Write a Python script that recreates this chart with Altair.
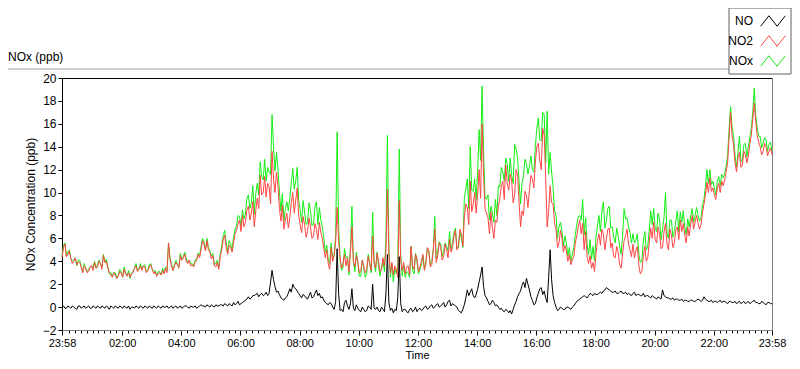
import altair as alt
import pandas as pd

# ---------------- data ----------------
# Samples every 6 minutes from 23:58 to 23:58 next day (241 values), plus a
# second reading 3 minutes after each of them (240 values) that captures the
# jagged band of the record.
START = "2014-03-10 23:58"

NO2 = [4.3, 5.5, 4.6, 4.2, 4.0, 3.7, 3.9, 3.0, 3.4, 3.1, 3.6, 3.9, 3.5, 3.8, 4.5, 4.0, 3.0, 2.6, 2.8, 2.7,
       3.0, 3.3, 2.7, 2.6, 3.0, 3.6, 3.3, 3.2, 3.5, 3.2, 3.7, 2.9, 2.7, 3.0, 3.2, 3.4, 5.6, 3.6, 3.6, 3.7,
       4.5, 4.3, 4.0, 4.1, 3.7, 3.9, 4.6, 5.0,
       5.5, 5.8, 4.8, 4.5, 3.5, 3.3, 5.0, 6.3, 4.6, 5.2, 5.6, 6.7, 7.6, 8.0, 7.4, 8.8, 8.2, 7.0, 9.5, 11.5,
       10.0, 9.6, 10.5, 13.6, 10.0, 10.6, 7.5, 6.8, 8.2, 7.8, 10.0, 9.3, 8.0, 6.5, 7.2, 6.6, 7.0, 6.2, 6.8, 7.4,
       6.0, 4.3, 3.8, 5.2, 4.6, 8.7, 4.3, 3.8,
       3.6, 3.1, 7.0, 3.5, 3.9, 3.2, 3.6, 3.3, 3.8, 6.2, 3.4, 4.0, 3.3, 3.6, 10.3, 3.0, 2.8, 3.3, 9.3, 3.2,
       2.9, 3.6, 5.3, 3.3, 4.2, 3.5, 4.6, 3.8, 4.9, 3.7, 6.8, 4.5, 5.3, 4.4, 5.0, 5.9, 5.2, 6.7, 5.4, 6.4,
       7.8, 8.7, 11.0, 9.0, 8.2, 12.0, 16.0, 8.6,
       7.8, 8.3, 6.0, 7.4, 9.5, 11.0, 12.4, 10.2, 11.0, 9.8, 11.5, 7.0, 8.0, 9.8, 10.2, 11.2, 12.6, 14.3, 12.0, 15.0,
       7.0, 10.6, 9.0, 6.8, 5.6, 6.0, 5.4, 4.0, 3.7, 4.4, 6.2, 7.6, 7.3, 6.6, 3.8, 3.4, 3.1, 5.8, 5.4, 6.4,
       5.9, 6.9, 5.6, 4.3, 4.8, 3.4, 5.8, 6.8,
       5.0, 5.5, 4.9, 3.6, 3.1, 5.3, 4.3, 6.9, 7.4, 5.6, 6.4, 5.2, 7.3, 5.0, 6.3, 5.6, 7.0, 7.6, 7.3, 5.6,
       6.2, 8.0, 7.4, 7.3, 7.2, 9.0, 10.9, 11.3, 10.4, 9.4, 10.8, 11.0, 11.1, 12.6, 17.0, 14.2, 11.8, 13.5, 12.4, 13.3,
       13.2, 15.0, 17.8, 15.0, 14.0, 13.6, 14.0, 13.6, 13.3]
NO2_MID = [5.2, 4.4, 4.9, 3.8, 4.3, 3.9, 3.5, 3.6, 3.0, 3.5, 3.2, 3.4, 4.0, 3.3, 3.9, 3.4, 2.8, 3.0, 2.5, 3.1,
           2.6, 2.9, 3.0, 2.9, 3.4, 3.1, 3.6, 3.6, 3.0, 3.5, 3.3, 3.1, 2.9, 2.8, 2.9, 3.0, 4.2, 3.2, 3.9, 3.4,
           4.1, 4.6, 3.8, 3.6, 3.5, 4.1, 4.3, 5.8,
           4.9, 5.0, 4.2, 3.6, 3.9, 4.4, 5.9, 5.2, 5.4, 4.8, 6.4, 7.3, 6.6, 7.0, 8.5, 7.6, 9.2, 8.4, 8.6, 9.8,
           11.4, 10.8, 9.0, 11.2, 11.8, 8.6, 8.9, 7.6, 6.9, 9.1, 8.2, 10.4, 7.2, 7.9, 6.1, 7.8, 6.0, 7.3, 5.9, 6.5,
           5.1, 5.0, 3.3, 4.0, 5.6, 5.8, 3.4, 4.6,
           4.3, 4.8, 4.0, 4.5, 3.0, 4.1, 3.0, 4.4, 3.2, 3.9, 4.7, 3.1, 4.3, 4.8, 4.6, 3.9, 3.6, 2.6, 4.1, 3.9,
           3.5, 2.8, 3.6, 4.6, 3.1, 4.0, 3.2, 5.2, 3.5, 5.0, 3.9, 5.6, 4.1, 5.5, 4.3, 4.8, 6.2, 5.0, 6.8, 5.3,
           9.0, 7.2, 8.3, 10.0, 9.8, 9.5, 11.4, 8.2,
           6.4, 6.9, 7.6, 8.8, 10.6, 9.4, 10.8, 11.6, 9.1, 12.0, 9.2, 8.4, 10.1, 8.7, 11.5, 10.4, 14.0, 12.8, 15.6, 11.2,
           8.4, 9.1, 7.3, 5.2, 6.7, 4.8, 4.9, 4.6, 4.1, 5.6, 7.0, 6.4, 5.0, 4.4, 4.5, 3.9, 4.6, 6.4, 6.8, 5.0,
           6.8, 5.2, 4.4, 5.3, 3.7, 4.6, 6.2, 5.5,
           4.4, 4.3, 5.3, 2.9, 4.4, 4.0, 5.6, 6.0, 5.9, 7.0, 5.1, 6.6, 5.5, 6.8, 5.2, 6.7, 5.9, 6.6, 6.3, 7.0,
           7.2, 6.8, 8.0, 6.8, 8.2, 9.8, 10.0, 10.1, 9.8, 10.4, 10.0, 10.6, 11.8, 14.8, 15.0, 12.6, 13.0, 12.2, 13.6, 12.6,
           14.2, 16.4, 16.2, 14.4, 13.3, 14.3, 13.2, 13.9]

NO = [0.0, -0.1, 0.1, -0.1, 0.0, -0.2, 0.1, 0.0, -0.1, 0.1, -0.1, 0.0, 0.1, -0.1, 0.0, 0.1, -0.2, 0.0, 0.1, -0.1,
      0.0, 0.1, -0.1, -0.2, 0.0, 0.1, -0.1, 0.0, 0.1, -0.1, 0.0, 0.1, -0.1, 0.0, 0.1, 0.0, -0.1, 0.1, 0.0, -0.1,
      0.1, 0.0, 0.1, -0.1, 0.0, 0.1, 0.0, 0.2,
      0.1, 0.2, 0.0, 0.1, 0.2, 0.1, 0.2, 0.3, 0.1, 0.2, 0.4, 0.3, 0.2, 0.4, 0.6, 0.9, 0.8, 1.0, 1.2, 1.1,
      1.0, 1.3, 1.2, 3.2, 1.8, 1.4, 0.8, 0.6, 0.9, 1.6, 2.0, 1.6, 1.2, 0.8, 1.0, 0.7, 1.3, 0.9, 1.5, 1.2,
      0.9, 0.4, 0.2, 0.3, -0.2, 5.1, -0.3, -0.4,
      0.6, -0.2, 1.6, -0.3, -0.1, -0.4, -0.2, -0.3, 0.0, 2.0, -0.2, -0.3, 0.0, -0.4, 4.6, -0.3, -0.5, -0.3, 4.4, -0.4,
      -0.2, -0.5, -0.1, -0.3, -0.4, -0.1, -0.2, 0.1, -0.1, 0.2, 0.0, 0.3, 0.1, 0.4, 0.2, 0.6, 0.3, 0.1, -0.3, -0.5,
      0.2, 1.5, 1.3, 1.0, 1.1, 2.2, 3.5, 1.0,
      0.5, 0.3, 0.4, 0.2, -0.2, -0.3, -0.2, -0.5, -0.6, 0.2, 0.9, 1.4, 2.2, 2.5, 1.5, 0.6, 0.3, 1.2, 1.7, 1.4,
      0.4, 5.0, 1.0, 0.0, -0.2, -0.1, -0.2, 0.0, -0.2, 0.1, 0.5, 0.7, 0.9, 0.9, 1.0, 1.1, 1.2, 1.1, 1.3, 1.4,
      1.7, 1.5, 1.3, 1.4, 1.2, 1.4, 1.2, 1.1,
      1.1, 1.2, 1.0, 1.1, 1.0, 0.9, 1.0, 0.8, 0.9, 0.7, 0.8, 1.5, 0.9, 0.8, 0.7, 0.6, 0.7, 0.6, 0.5, 0.6,
      0.5, 0.6, 0.5, 0.7, 0.5, 0.9, 0.6, 0.5, 0.4, 0.5, 0.5, 0.4, 0.5, 0.3, 0.5, 0.4, 0.3, 0.5, 0.4, 0.3,
      0.5, 0.4, 0.6, 0.4, 0.3, 0.4, 0.2, 0.4, 0.3]
NO_MID = [0.1, -0.1, 0.0, 0.1, -0.1, 0.1, -0.1, 0.1, 0.0, -0.1, 0.1, -0.1, 0.0, 0.1, -0.1, 0.0, 0.1, -0.1, 0.0, 0.1,
          -0.1, 0.0, 0.1, 0.0, -0.1, 0.0, 0.1, -0.1, 0.0, 0.1, -0.1, 0.0, 0.1, -0.1, 0.0, 0.1, 0.0, -0.1, 0.1, 0.0,
          -0.1, 0.1, 0.0, 0.1, 0.0, -0.1, 0.1, 0.1,
          0.0, 0.1, 0.2, 0.0, 0.1, 0.2, 0.1, 0.2, 0.3, 0.1, 0.2, 0.5, 0.3, 0.5, 0.7, 0.7, 1.0, 1.1, 0.9, 1.2,
          1.1, 1.0, 2.2, 2.4, 1.3, 1.1, 0.7, 0.8, 1.2, 1.3, 1.7, 1.4, 1.0, 1.1, 0.8, 1.0, 0.8, 1.2, 1.0, 0.8,
          0.6, 0.3, 0.4, 0.0, 0.5, 1.2, -0.2, 0.4,
          0.1, 0.3, -0.1, 0.2, -0.3, 0.0, -0.4, 0.1, -0.2, -0.1, 0.0, -0.4, -0.2, 1.2, 0.4, -0.1, -0.2, 0.8, 0.3, -0.2,
          -0.4, -0.2, -0.4, 0.0, -0.2, -0.3, 0.0, -0.2, 0.1, -0.1, 0.2, 0.0, 0.2, 0.0, 0.5, 0.1, 0.2, 0.0, -0.4, -0.2,
          0.8, 1.0, 1.6, 0.8, 1.6, 2.8, 1.8, 0.8,
          0.2, 0.6, 0.1, 0.0, -0.1, -0.4, -0.3, -0.3, -0.2, 0.5, 1.2, 1.9, 1.7, 2.0, 0.9, 0.2, 0.8, 1.6, 1.1, 0.8,
          2.6, 2.4, 0.4, -0.3, 0.0, -0.2, 0.0, -0.1, 0.0, 0.3, 0.6, 0.8, 1.0, 0.8, 1.2, 1.0, 1.1, 1.2, 1.2, 1.5,
          1.6, 1.4, 1.3, 1.2, 1.3, 1.2, 1.3, 1.2,
          1.0, 1.3, 1.1, 1.0, 1.2, 1.0, 0.9, 1.0, 0.8, 0.9, 0.7, 1.0, 0.8, 0.7, 0.8, 0.7, 0.6, 0.7, 0.6, 0.5,
          0.6, 0.5, 0.6, 0.6, 0.6, 0.7, 0.5, 0.6, 0.5, 0.4, 0.6, 0.5, 0.4, 0.5, 0.4, 0.5, 0.4, 0.3, 0.5, 0.4,
          0.3, 0.5, 0.4, 0.3, 0.5, 0.3, 0.4, 0.3]

NOX = [4.4, 5.6, 4.8, 4.2, 4.1, 3.6, 4.1, 3.1, 3.4, 3.3, 3.6, 4.0, 3.7, 3.8, 4.6, 4.2, 2.9, 2.7, 3.0, 2.7,
       3.1, 3.5, 2.7, 2.5, 3.1, 3.8, 3.3, 3.3, 3.7, 3.2, 3.8, 3.1, 2.7, 3.1, 3.4, 3.5, 5.6, 3.8, 3.7, 3.7,
       4.7, 4.4, 4.2, 4.1, 3.8, 4.1, 4.7, 5.3,
       5.7, 6.0, 4.9, 4.7, 3.8, 3.5, 5.3, 6.7, 4.8, 5.5, 6.1, 7.1, 7.9, 8.5, 8.1, 9.8, 9.1, 8.1, 10.8, 12.7,
       11.1, 11.0, 11.8, 16.8, 11.9, 12.1, 8.4, 7.5, 9.2, 9.5, 12.1, 11.0, 9.3, 7.4, 8.3, 7.4, 8.4, 7.2, 9.2, 8.7,
       7.0, 4.8, 4.1, 5.6, 4.5, 15.3, 4.1, 3.5,
       4.3, 2.8, 8.8, 3.1, 3.9, 2.7, 3.4, 2.9, 3.9, 8.3, 3.1, 3.6, 3.4, 3.1, 15.0, 2.6, 2.2, 2.9, 13.8, 2.7,
       2.6, 3.0, 5.3, 2.9, 3.9, 3.3, 4.5, 4.0, 4.9, 4.0, 7.9, 4.9, 5.5, 4.9, 5.3, 6.6, 5.6, 6.9, 5.2, 6.0,
       9.5, 11.2, 14.0, 10.1, 9.4, 15.5, 19.3, 9.6,
       9.8, 8.8, 7.4, 8.0, 10.5, 11.8, 13.0, 11.0, 11.5, 14.2, 13.0, 9.0, 11.5, 12.5, 12.3, 12.0, 14.0, 16.5, 14.5, 16.8,
       17.1, 13.5, 10.5, 8.0, 7.0, 6.6, 6.2, 4.5, 4.0, 5.2, 7.2, 8.0, 9.4, 7.8, 4.6, 4.2, 4.0, 7.1, 6.6, 9.2,
       7.5, 8.8, 7.0, 5.6, 6.2, 4.6, 8.6, 7.8,
       6.5, 6.4, 5.8, 4.6, 4.0, 6.6, 5.3, 8.4, 8.6, 6.6, 7.6, 6.8, 10.0, 6.0, 7.6, 6.6, 8.4, 8.3, 8.4, 6.3,
       7.0, 8.6, 8.0, 8.0, 7.8, 9.4, 12.0, 12.0, 11.0, 9.8, 11.4, 11.6, 11.6, 13.3, 17.5, 15.0, 12.2, 14.9, 12.9, 14.3,
       14.0, 15.6, 19.1, 15.7, 14.9, 14.3, 14.6, 14.2, 13.6]
NOX_MID = [5.4, 4.4, 5.0, 4.0, 4.3, 4.1, 3.5, 3.8, 3.1, 3.5, 3.4, 3.4, 4.1, 3.5, 3.9, 3.5, 3.0, 3.0, 2.6, 3.3,
           2.6, 3.0, 3.2, 3.0, 3.4, 3.2, 3.8, 3.6, 3.1, 3.7, 3.3, 3.2, 3.1, 2.8, 3.0, 3.2, 4.3, 3.2, 4.1, 3.5,
           4.1, 4.8, 3.9, 3.8, 3.6, 4.1, 4.5, 6.0,
           5.0, 5.2, 4.5, 3.7, 4.1, 4.7, 6.2, 5.6, 5.8, 5.0, 6.8, 8.0, 7.1, 7.7, 9.5, 8.6, 10.6, 9.9, 9.8, 11.4,
           12.9, 12.2, 11.6, 14.0, 13.5, 10.0, 9.9, 8.6, 8.4, 10.8, 10.3, 12.2, 8.5, 9.3, 7.2, 9.1, 7.1, 8.8, 7.2, 7.6,
           6.0, 5.4, 3.8, 4.1, 6.2, 7.2, 3.2, 5.1,
           4.4, 5.2, 3.9, 4.8, 2.7, 4.1, 2.6, 4.6, 3.0, 3.8, 4.8, 2.7, 4.1, 6.1, 5.0, 3.8, 3.4, 3.5, 4.5, 3.7,
           3.1, 2.6, 3.2, 4.7, 2.9, 3.7, 3.3, 5.1, 3.7, 5.0, 4.2, 5.7, 4.4, 5.6, 4.9, 5.0, 6.5, 5.1, 6.5, 5.2,
           10.3, 8.6, 10.2, 11.2, 11.8, 12.8, 13.6, 9.4,
           7.6, 8.2, 9.4, 10.6, 12.2, 11.0, 12.5, 13.0, 10.8, 13.8, 11.0, 10.8, 12.9, 11.6, 13.2, 11.8, 15.6, 14.6, 17.0, 12.6,
           11.6, 11.8, 8.4, 6.0, 7.4, 5.3, 5.6, 5.2, 4.6, 6.3, 7.9, 7.6, 6.3, 5.5, 5.9, 5.3, 6.1, 8.0, 8.4, 6.9,
           8.6, 6.9, 6.1, 6.9, 5.3, 6.2, 7.7, 7.0,
           5.6, 5.6, 6.4, 3.9, 5.7, 5.0, 6.7, 7.2, 6.8, 8.2, 5.9, 7.8, 6.4, 7.6, 6.1, 7.5, 6.6, 7.4, 7.0, 7.7,
           7.9, 7.4, 8.7, 7.5, 8.9, 10.5, 10.8, 10.7, 10.4, 11.0, 10.6, 11.3, 12.3, 15.6, 15.7, 13.2, 13.5, 12.7, 14.2, 13.1,
           14.8, 17.0, 16.7, 14.9, 13.9, 14.8, 13.6, 14.4]

SERIES = ["NO", "NO2", "NOx"]
COLORS = ["#000000", "#ff4545", "#14ee14"]
Y_TICKS = [-2, 0, 2, 4, 6, 8, 10, 12, 14, 16, 18, 20]

# ---------------- table ----------------
t_main = pd.date_range(START, periods=len(NO2), freq="6min")
t_mid = t_main[:-1] + pd.Timedelta(minutes=3)
rows = []
for name, main, mid in (("NO", NO, NO_MID), ("NO2", NO2, NO2_MID), ("NOx", NOX, NOX_MID)):
    for t, v in zip(t_main, main):
        rows.append({"time": t, "value": v, "series": name})
    for t, v in zip(t_mid, mid):
        rows.append({"time": t, "value": v, "series": name})
df = pd.DataFrame(rows).sort_values(["series", "time"])
df["time"] = df["time"].dt.strftime("%Y-%m-%dT%H:%M:%S")


def dt(day, h, m):
    return alt.DateTime(year=2014, month=3, date=day, hours=h, minutes=m)


x_ticks = [dt(10, 23, 58)] + [dt(11, m // 60, m % 60) for m in range(12, 1440, 12)] + [dt(11, 23, 58)]
x_scale = alt.Scale(domain=[dt(10, 23, 58), dt(11, 23, 58)], nice=False)
y_scale = alt.Scale(domain=[-2, 20], nice=False, zero=False)

MAJOR = "(minutes(datum.value) == 0 && hours(datum.value) % 2 == 0) || minutes(datum.value) == 58"

x_axis_bottom = alt.Axis(
    values=x_ticks,
    labelExpr=f"({MAJOR}) ? timeFormat(datum.value, '%H:%M') : ''",
    tickSize={"condition": {"test": MAJOR, "value": 5}, "value": 3},
    labelFlush=False, labelOverlap=False, grid=False,
    domainColor="#808080", tickColor="#000000",
    labelFontSize=11, labelPadding=2, title="Time", titleFontSize=11, titlePadding=1,
)
x_axis_top = alt.Axis(orient="top", labels=False, ticks=False, grid=False,
                      domainColor="#000000", title=None)
y_axis = alt.Axis(values=Y_TICKS, tickSize=4, labelPadding=2, grid=False,
                  domainColor="#000000", tickColor="#000000",
                  title="NOx Concentration (ppb)", titlePadding=5)

legend = alt.Legend(
    title=None, orient="none", legendX=698, legendY=-70, direction="vertical",
    symbolType="M-1.3,0.55L-0.43,-0.55L0.43,0.55L1.3,-0.55", symbolSize=361,
    symbolStrokeWidth=1, symbolFillColor="transparent",
    labelAlign="right", labelOffset={"expr": "-30"}, labelFontSize=12,
    padding=3, rowPadding=2,
)

color = alt.Color("series:N", scale=alt.Scale(domain=SERIES, range=COLORS), legend=legend)


def layer(name, x_axis):
    return alt.Chart(df).transform_filter(f"datum.series == '{name}'").mark_line(
        strokeWidth=1
    ).encode(
        x=alt.X("time:T", scale=x_scale, axis=x_axis),
        y=alt.Y("value:Q", scale=y_scale, axis=y_axis),
        color=color,
    )


deco = pd.DataFrame({"a": [0]})
frame = alt.Chart(deco).mark_rule(color="#a0a0a0", strokeWidth=1).encode(
    x=alt.value(-54), x2=alt.value(667), y=alt.value(-9)
)
legend_box = alt.Chart(deco).mark_rect(fill="#ffffff", stroke="#606060", strokeWidth=1).encode(
    x=alt.value(667), x2=alt.value(729), y=alt.value(-70), y2=alt.value(-4)
)

chart = alt.layer(
    frame,
    legend_box,
    layer("NOx", x_axis_bottom),
    layer("NO2", None),
    layer("NO", x_axis_top),
).resolve_axis(x="independent").properties(
    width=710, height=252,
    padding={"left": 54, "top": 70, "right": 20, "bottom": 31},
    autosize=alt.AutoSizeParams(type="none"),
    title=alt.Title("NOx (ppb)", anchor="start", frame="group", dx=-54, dy=68, offset=12,
                    fontSize=12, fontWeight="normal", color="#000000"),
).configure(
    font="Liberation Sans",
).configure_view(
    stroke="#808080", strokeWidth=1,
).configure_axis(
    labelFont="Liberation Sans", labelFontSize=12, labelColor="#000000",
    titleFont="Liberation Sans", titleFontSize=12, titleFontWeight="normal", titleColor="#000000",
).configure_legend(
    labelFont="Liberation Sans", labelColor="#000000",
)

chart.save("out.html", embed_options={"renderer": "svg", "actions": False})
